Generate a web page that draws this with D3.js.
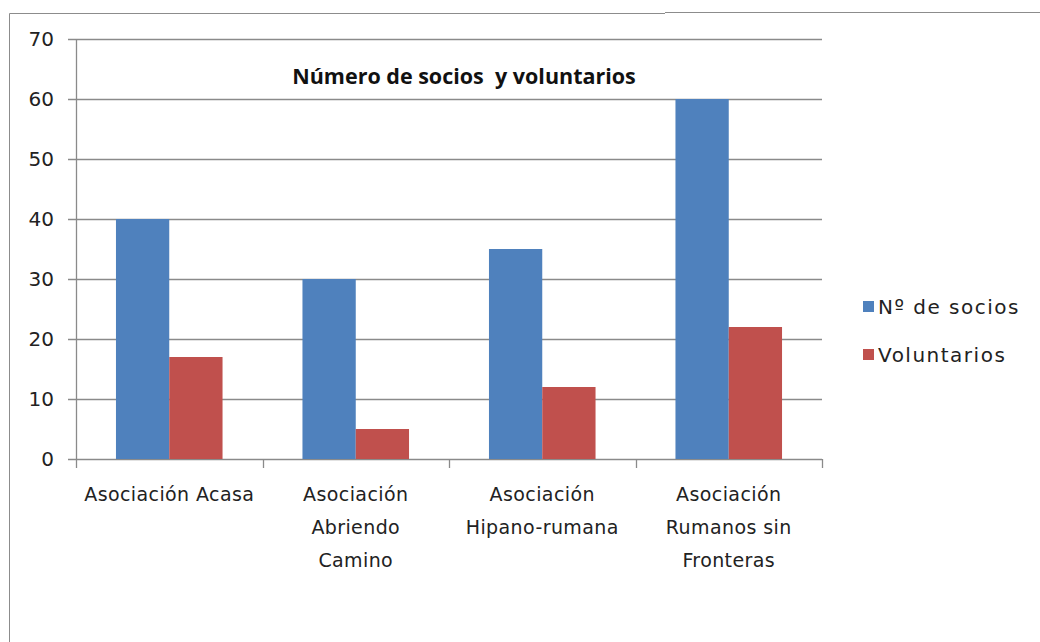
<!DOCTYPE html>
<head>
	<meta charset="utf-8">
	<script src="https://d3js.org/d3.v7.min.js"></script>
	<style>
		body { margin: 0; background: #fff; }
		svg { display: block; }
	</style>
</head>
<body>
<svg width="1040" height="642"></svg>
<script>
	var categories = [
		['Asociación Acasa'],
		['Asociación', 'Abriendo', 'Camino'],
		['Asociación', 'Hipano-rumana'],
		['Asociación', 'Rumanos sin', 'Fronteras']
	];
	var seriesNames = ['Nº de socios', 'Voluntarios'];
	var socios = [40, 30, 35, 60];
	var voluntarios = [17, 5, 12, 22];
	var yTicks = [0, 10, 20, 30, 40, 50, 60, 70];
	var title = 'Número de socios\u00a0 y voluntarios';

	var colors = ['#4F81BD', '#C0504D'];
	var labelFont = '"DejaVu Sans", Verdana, sans-serif';

	var svg = d3.select('svg');
	var margin = {left: 76, top: 39, right: 822, bottom: 459};

	// chart frame
	svg.append('path')
		.attr('d', 'M9.5,660 V13.5 H665 M665,12.5 H1045')
		.attr('fill', 'none')
		.attr('stroke', '#8c8c8c')
		.attr('stroke-width', 1);

	var x0 = d3.scaleBand()
		.domain(d3.range(categories.length))
		.range([margin.left, margin.right])
		.paddingInner(0).paddingOuter(0);

	var x1 = d3.scaleBand()
		.domain(d3.range(seriesNames.length))
		.range([0, x0.bandwidth()])
		.paddingOuter(0.75).paddingInner(0);

	var y = d3.scaleLinear().domain([0, 70]).range([margin.bottom, margin.top]);

	/* ----- gridlines ----- */
	svg.append('g').selectAll('line')
		.data(yTicks)
		.enter().append('line')
		.attr('x1', margin.left - 8)
		.attr('x2', margin.right)
		.attr('y1', function (d) { return Math.round(y(d)) + 0.5; })
		.attr('y2', function (d) { return Math.round(y(d)) + 0.5; })
		.attr('stroke', '#8a8a8a')
		.attr('stroke-width', 1.3);

	/* ----- y labels ----- */
	svg.append('g').selectAll('text')
		.data(yTicks)
		.enter().append('text')
		.attr('x', 54)
		.attr('y', function (d) { return y(d); })
		.attr('dy', '0.36em')
		.attr('text-anchor', 'end')
		.attr('font-family', labelFont)
		.attr('font-size', 20)
		.attr('fill', '#222')
		.text(function (d) { return d; });

	/* ----- bars ----- */
	var data = categories.map(function (c, i) { return [socios[i], voluntarios[i]]; });
	var groups = svg.append('g').selectAll('g')
		.data(data)
		.enter().append('g')
		.attr('transform', function (d, i) { return 'translate(' + x0(i) + ',0)'; });

	groups.selectAll('rect')
		.data(function (d) { return d; })
		.enter().append('rect')
		.attr('x', function (d, i) { return x1(i); })
		.attr('width', x1.bandwidth())
		.attr('y', function (d) { return y(d); })
		.attr('height', function (d) { return y(0) - y(d); })
		.attr('fill', function (d, i) { return colors[i]; });

	/* ----- axes lines ----- */
	svg.append('line')
		.attr('x1', margin.left + 0.5).attr('x2', margin.left + 0.5)
		.attr('y1', margin.top).attr('y2', margin.bottom)
		.attr('stroke', '#8a8a8a').attr('stroke-width', 1.3);

	svg.append('g').selectAll('line')
		.data(d3.range(categories.length + 1))
		.enter().append('line')
		.attr('x1', function (d) { return Math.round(margin.left + d * x0.bandwidth()) + 0.5; })
		.attr('x2', function (d) { return Math.round(margin.left + d * x0.bandwidth()) + 0.5; })
		.attr('y1', margin.bottom)
		.attr('y2', margin.bottom + 9)
		.attr('stroke', '#8a8a8a').attr('stroke-width', 1.3);

	/* ----- x labels ----- */
	var xl = svg.append('g').selectAll('text')
		.data(categories)
		.enter().append('text')
		.attr('text-anchor', 'middle')
		.attr('font-family', labelFont)
		.attr('font-size', 19)
		.attr('letter-spacing', 0.4)
		.attr('fill', '#222')
		.attr('transform', function (d, i) { return 'translate(' + (x0(i) + x0.bandwidth() / 2) + ',' + 501 + ')'; });

	xl.selectAll('tspan')
		.data(function (d) { return d; })
		.enter().append('tspan')
		.attr('x', 0)
		.attr('y', function (d, i) { return i * 33; })
		.text(function (d) { return d; });

	/* ----- title ----- */
	svg.append('text')
		.attr('x', 464)
		.attr('y', 84)
		.attr('text-anchor', 'middle')
		.attr('font-family', '"Open Sans", sans-serif')
		.attr('font-weight', 'bold')
		.attr('font-size', 21.5)
		.attr('fill', '#111')
		.text(title);

	/* ----- legend ----- */
	var legend = svg.append('g').selectAll('g')
		.data(seriesNames)
		.enter().append('g')
		.attr('transform', function (d, i) { return 'translate(863,' + (307 + i * 48) + ')'; });

	legend.append('rect')
		.attr('x', 0).attr('y', -6)
		.attr('width', 11).attr('height', 11)
		.attr('fill', function (d, i) { return colors[i]; });

	legend.append('text')
		.attr('x', 15)
		.attr('dy', '0.36em')
		.attr('font-family', labelFont)
		.attr('font-size', 20)
		.attr('letter-spacing', 1.5)
		.attr('fill', '#222')
		.text(function (d) { return d; });
</script>
</body>
